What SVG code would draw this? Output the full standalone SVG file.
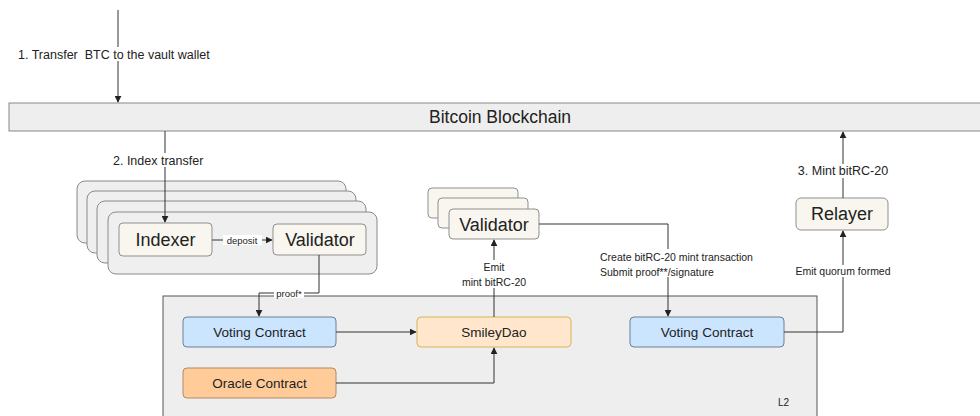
<svg xmlns="http://www.w3.org/2000/svg" width="980" height="416" viewBox="0 0 980 416">
  <defs>
    <marker id="arrow" viewBox="0 0 10 10" refX="9" refY="5" markerWidth="7" markerHeight="7" orient="auto-start-reverse" markerUnits="userSpaceOnUse">
      <path d="M0,0 L10,5 L0,10 z" fill="#222"/>
    </marker>
    <style>
      text { font-family: "Liberation Sans", Arial, sans-serif; fill: #222; }
      .edge { fill: none; stroke: #333; stroke-width: 1; }
      .lbl { font-size: 12.5px; }
      .small { font-size: 10.5px; }
      .tiny { font-size: 9.5px; text-anchor: middle; }
      .stack { fill: #efefef; stroke: #8a8a8a; stroke-width: 1; }
      .cream { fill: #f8f6ee; stroke: #8f8f8f; stroke-width: 1; }
      .big { font-size: 18px; text-anchor: middle; }
      .mid { font-size: 13.5px; text-anchor: middle; }
      .bg { fill: #ffffff; }
    </style>
  </defs>

  <!-- chain bar -->
  <g id="bitcoin-blockchain">
    <rect x="9" y="103" width="975" height="28" fill="#eeeeee" stroke="#888" stroke-width="1"/>
    <text x="500" y="123" font-size="17.5" text-anchor="middle">Bitcoin Blockchain</text>
  </g>

  <!-- L2 container -->
  <g id="l2">
    <rect x="163" y="296" width="654" height="130" fill="#eeeeee" stroke="#555" stroke-width="1"/>
    <text x="778" y="406" font-size="10">L2</text>
  </g>

  <!-- indexer/validator node stack -->
  <g id="node-stack">
    <rect class="stack" x="77" y="181" width="269" height="62" rx="8"/>
    <rect class="stack" x="87" y="191" width="269" height="62" rx="8"/>
    <rect class="stack" x="97" y="201" width="269" height="62" rx="8"/>
    <rect class="stack" x="108" y="212" width="269" height="62" rx="8"/>
  </g>
  <g id="indexer">
    <rect class="cream" x="119" y="223" width="93" height="33" rx="4"/>
    <text class="big" x="165.5" y="246">Indexer</text>
  </g>
  <g id="validator-local">
    <rect class="cream" x="273" y="224" width="93" height="31" rx="4"/>
    <text class="big" x="320" y="246">Validator</text>
  </g>

  <!-- validator set -->
  <g id="validator-set">
    <rect class="cream" x="428" y="188" width="90" height="30" rx="4"/>
    <rect class="cream" x="438" y="198" width="90" height="30" rx="4"/>
    <rect class="cream" x="449" y="209" width="90" height="30" rx="4"/>
    <text class="big" x="494" y="231">Validator</text>
  </g>

  <g id="relayer">
    <rect class="cream" x="796" y="198" width="92" height="32" rx="5"/>
    <text class="big" x="842" y="220">Relayer</text>
  </g>

  <g id="voting-contract-1">
    <rect x="183" y="317" width="153" height="30" rx="4" fill="#cce5ff" stroke="#6c7f99" stroke-width="1"/>
    <text class="mid" x="259.5" y="337">Voting Contract</text>
  </g>
  <g id="oracle-contract">
    <rect x="183" y="368" width="153" height="30" rx="4" fill="#ffcc99" stroke="#b08a66" stroke-width="1"/>
    <text class="mid" x="259.5" y="388">Oracle Contract</text>
  </g>
  <g id="smileydao">
    <rect x="417" y="317" width="154" height="30" rx="4" fill="#ffe6cc" stroke="#d6b656" stroke-width="1"/>
    <text class="mid" x="494" y="337">SmileyDao</text>
  </g>
  <g id="voting-contract-2">
    <rect x="630" y="317" width="154" height="30" rx="4" fill="#cce5ff" stroke="#6c7f99" stroke-width="1"/>
    <text class="mid" x="707" y="337">Voting Contract</text>
  </g>

  <!-- connectors -->
  <g id="connectors">
    <!-- 1. transfer into chain -->
    <path class="edge" d="M118,10 V102" marker-end="url(#arrow)"/>
    <rect class="bg" x="16" y="47" width="210" height="14"/>
    <text class="lbl" x="18" y="59">1. Transfer&#160; BTC to the vault wallet</text>

    <!-- 2. index transfer -->
    <path class="edge" d="M165,131 V222" marker-end="url(#arrow)"/>
    <rect class="bg" x="110" y="153" width="108" height="14"/>
    <text class="lbl" x="113" y="165">2. Index transfer</text>

    <!-- deposit -->
    <path class="edge" d="M212,240 H272" marker-end="url(#arrow)"/>
    <rect class="bg" x="223" y="235" width="39" height="10"/>
    <text class="tiny" x="242" y="243.5">deposit</text>

    <!-- proof* -->
    <path class="edge" d="M319,255 V293 H259 V316" marker-end="url(#arrow)"/>
    <rect class="bg" x="274" y="288" width="30" height="10"/>
    <text class="tiny" x="289" y="296.5">proof*</text>

    <!-- voting -> smileydao -->
    <path class="edge" d="M336,332 H416" marker-end="url(#arrow)"/>
    <!-- oracle -> smileydao -->
    <path class="edge" d="M336,383 H494 V348" marker-end="url(#arrow)"/>

    <!-- smileydao emits to validators -->
    <path class="edge" d="M494,317 V240" marker-end="url(#arrow)"/>
    <rect class="bg" x="456" y="260" width="76" height="28"/>
    <text class="small" x="494" y="271" text-anchor="middle">Emit</text>
    <text class="small" x="494" y="286" text-anchor="middle">mint bitRC-20</text>

    <!-- validator -> voting contract 2 -->
    <path class="edge" d="M539,224 H668 V316" marker-end="url(#arrow)"/>
    <rect class="bg" x="598" y="249" width="170" height="28"/>
    <text class="small" x="600" y="261">Create bitRC-20 mint transaction</text>
    <text class="small" x="600" y="276">Submit proof**/signature</text>

    <!-- voting contract 2 -> relayer -->
    <path class="edge" d="M784,332 H843 V231" marker-end="url(#arrow)"/>
    <rect class="bg" x="791" y="265" width="104" height="12"/>
    <text class="small" x="843" y="275" text-anchor="middle">Emit quorum formed</text>

    <!-- 3. mint -->
    <path class="edge" d="M843,198 V132" marker-end="url(#arrow)"/>
    <rect class="bg" x="793" y="164" width="100" height="14"/>
    <text class="lbl" x="843" y="175" text-anchor="middle">3. Mint bitRC-20</text>
  </g>
</svg>
